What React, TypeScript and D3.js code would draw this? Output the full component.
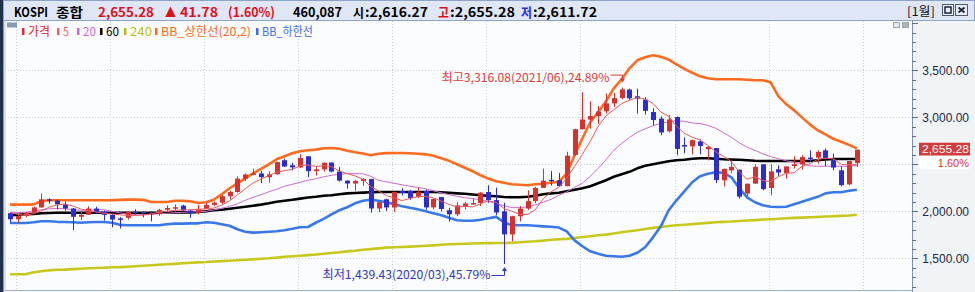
import { useEffect, useRef } from "react";
import * as d3 from "d3";

const W = 975;
const H = 292;

// monthly bars, 2014/12 .. 2023/12
const months = d3.timeMonth
  .range(new Date(2014, 11, 1), new Date(2024, 0, 1))
  .map(d3.timeFormat("%Y/%m"));

const opens = [
  1980,
  1915.6, 1949.3, 1985.8, 2041.0, 2127.2, 2114.8, 2074.2, 2030.2, 1941.5, 1962.8, 2029.5, 1992.0,
  1961.3, 1924, 1930, 1995.9, 1994.2, 1983.4, 1970.4, 2016.2, 2034.7, 2060, 2008.2, 1983.5,
  2026.5, 2067.6, 2091.6, 2160.2, 2205.4, 2347.4, 2391.8, 2402.7, 2363.2, 2394.5, 2543, 2490,
  2467.5, 2585, 2427.4, 2445.9, 2518, 2423.0, 2326.1, 2295.3, 2322.9, 2343.1, 2029.7, 2128,
  2041.0, 2215, 2216, 2152, 2216, 2041.7, 2152, 2011, 1967.8, 2046, 2074, 2088.0,
  2205, 2119.0, 2000, 1754.6, 1947.6, 2029.6, 2108.3, 2249.4, 2335, 2330, 2267, 2600,
  2874, 2976, 3013, 3064, 3147.9, 3205, 3295, 3223, 3188, 3056, 2986, 2851,
  3003, 2705, 2691, 2744, 2660, 2673, 2330, 2436, 2443, 2188, 2294, 2500,
  2248, 2447, 2407, 2482, 2500, 2571, 2571, 2649, 2553, 2436, 2287, 2513,
];
const highs = [
  1990,
  1963, 1990, 2050, 2189.5, 2139, 2127, 2105, 2036, 1994, 2053, 2049, 2008,
  1975, 1939, 2000, 2022, 2000, 2001, 2027, 2063, 2073, 2070, 2015, 2068,
  2089, 2104, 2172, 2217, 2371, 2402, 2453, 2429, 2426, 2523.4, 2561, 2516,
  2607, 2588, 2476, 2522, 2520, 2470, 2330, 2335, 2355, 2345, 2111, 2135,
  2210, 2246, 2228, 2252, 2231, 2137, 2152, 2038, 2096, 2101, 2136, 2204,
  2277, 2252, 2092, 1952, 2056, 2223, 2260, 2454, 2429, 2408, 2633, 2878,
  3266, 3170, 3120, 3252, 3259, 3316.1, 3305, 3305, 3214, 3096, 3010, 3025,
  3010, 2787, 2762, 2766, 2694, 2673, 2454, 2543, 2443, 2294, 2500, 2500,
  2500, 2489, 2479, 2585, 2596, 2649, 2649, 2667, 2614, 2479, 2535.3, 2655.3,
];
const lows = [
  1882,
  1876, 1936, 1977, 2039, 2082, 2020, 2006, 1800.8, 1908, 1961, 1969, 1901,
  1829, 1817, 1912, 1963, 1936, 1892, 1952, 2002, 1988, 2004, 1931, 1966,
  2026, 2055, 2073, 2126, 2199, 2322, 2384, 2300, 2305, 2387, 2471, 2436,
  2460, 2363, 2380, 2422, 2415, 2316, 2242, 2218, 2270, 1985.9, 1991, 2004,
  1993, 2169, 2121, 2140, 2016, 2021, 1998, 1891, 1947, 2020, 2070, 2057,
  2090, 1958, 1439.4, 1680, 1891, 2014, 2088, 2249, 2273, 2267, 2267, 2590,
  2869, 2880, 2930, 3040, 3110, 3191, 3185, 3039, 3030, 2915, 2809, 2837,
  2596, 2617, 2606, 2606, 2542, 2301, 2266, 2408, 2135, 2160, 2294, 2223,
  2170, 2372, 2348, 2454, 2443, 2524, 2507, 2479, 2436, 2266, 2277, 2471,
];
const closes = [
  1915.6,
  1949.3, 1985.8, 2041.0, 2127.2, 2114.8, 2074.2, 2030.2, 1941.5, 1962.8, 2029.5, 1992.0, 1961.3,
  1912.1, 1916.7, 1995.9, 1994.2, 1983.4, 1970.4, 2016.2, 2034.7, 2043.6, 2008.2, 1983.5, 2026.5,
  2067.6, 2091.6, 2160.2, 2205.4, 2347.4, 2391.8, 2402.7, 2363.2, 2394.5, 2523.4, 2476.4, 2467.5,
  2566.5, 2427.4, 2445.9, 2515.4, 2423.0, 2326.1, 2295.3, 2322.9, 2343.1, 2029.7, 2096.9, 2041.0,
  2204.9, 2195.4, 2140.7, 2203.6, 2041.7, 2130.6, 2024.6, 1967.8, 2063.1, 2083.5, 2088.0, 2197.7,
  2119.0, 1987.0, 1754.6, 1947.6, 2029.6, 2108.3, 2249.4, 2326.2, 2327.9, 2267.2, 2591.3, 2873.5,
  2976.2, 3013.0, 3061.4, 3147.9, 3203.9, 3296.7, 3202.3, 3199.3, 3068.8, 2970.7, 2839.0, 2977.7,
  2663.3, 2699.2, 2757.7, 2695.1, 2685.9, 2332.6, 2451.5, 2472.1, 2155.5, 2293.6, 2472.5, 2236.4,
  2425.1, 2412.9, 2476.9, 2501.5, 2577.1, 2564.3, 2632.6, 2556.3, 2465.1, 2278.0, 2535.3, 2655.3,
];

const ma5 = [
  1989.9,
  1966.0, 1959.2, 1974.5, 2003.8, 2043.6, 2068.6, 2077.5, 2057.6, 2024.7, 2007.6, 1991.2, 1977.4,
  1971.5, 1962.3, 1955.6, 1956.0, 1960.5, 1972.1, 1992.0, 1999.8, 2009.7, 2014.6, 2017.2, 2019.3,
  2025.9, 2035.5, 2065.9, 2110.3, 2174.4, 2239.3, 2301.5, 2342.1, 2379.9, 2415.1, 2432.0, 2445.0,
  2485.7, 2492.2, 2476.7, 2484.5, 2475.6, 2427.6, 2401.1, 2376.5, 2342.1, 2263.4, 2217.6, 2166.7,
  2143.1, 2113.6, 2135.8, 2157.1, 2157.3, 2142.4, 2108.2, 2073.7, 2045.6, 2053.9, 2045.4, 2080.0,
  2110.3, 2095.0, 2029.3, 2001.2, 1967.6, 1965.4, 2017.9, 2132.2, 2208.3, 2255.8, 2352.4, 2477.2,
  2607.2, 2744.2, 2903.1, 3014.4, 3080.5, 3144.6, 3182.4, 3210.0, 3194.2, 3147.6, 3056.0, 3011.1,
  2903.9, 2830.0, 2787.4, 2758.6, 2700.2, 2634.1, 2584.6, 2527.4, 2419.5, 2341.1, 2369.0, 2326.0,
  2316.6, 2368.1, 2404.8, 2410.6, 2478.7, 2506.5, 2550.5, 2566.4, 2559.1, 2499.3, 2493.5, 2498.0,
];
const ma20 = [
  1989,
  1986, 1989, 2003, 2016, 2027, 2029, 2029, 2018, 2011, 2011, 2016, 2016,
  2000, 1984, 1968, 1963, 1963, 1968, 1973, 1979, 1986, 1989, 1993, 1995,
  2000, 2014, 2032, 2053, 2080, 2117, 2149, 2176, 2207, 2234, 2266, 2287,
  2309, 2330, 2346, 2367, 2383, 2394, 2401, 2401, 2399, 2372, 2330, 2314,
  2298, 2282, 2266, 2255, 2239, 2218, 2197, 2176, 2160, 2144, 2135, 2122,
  2106, 2082, 2059, 2039, 2039, 2048, 2069, 2096, 2128, 2170, 2207, 2255,
  2298, 2372, 2457, 2548, 2649, 2720, 2787, 2840, 2878, 2910, 2936, 2952,
  2963, 2957, 2941, 2933, 2915, 2883, 2835, 2787, 2729, 2681, 2649, 2612,
  2582, 2559, 2537, 2524, 2505, 2484, 2479, 2479, 2479, 2479, 2479, 2489,
];
const ma60 = [
  1957,
  1963, 1968, 1973, 1979, 1982, 1984, 1984, 1984, 1984, 1984, 1984, 1984,
  1984, 1984, 1984, 1984, 1984, 1984, 1984, 1984, 1989, 1989, 1989, 1993,
  2000, 2011, 2016, 2027, 2037, 2048, 2059, 2071, 2085, 2101, 2112, 2122,
  2135, 2146, 2154, 2165, 2170, 2181, 2191, 2195, 2199, 2202, 2205, 2205,
  2205, 2205, 2205, 2205, 2205, 2205, 2202, 2197, 2191, 2186, 2178, 2170,
  2165, 2160, 2152, 2149, 2149, 2154, 2165, 2181, 2191, 2197, 2213, 2229,
  2245, 2266, 2298, 2330, 2367, 2394, 2420, 2457, 2484, 2500, 2516, 2532,
  2543, 2548, 2559, 2564, 2564, 2559, 2553, 2550, 2548, 2543, 2537, 2535,
  2535, 2535, 2535, 2535, 2535, 2535, 2543, 2551, 2556, 2556, 2556, 2556,
];
const ma240 = [
  1330,
  1330, 1330, 1351, 1362, 1372, 1378, 1380, 1385, 1389, 1394, 1397, 1400,
  1404, 1406, 1410, 1415, 1420, 1426, 1431, 1436, 1441, 1447, 1452, 1457,
  1460, 1466, 1470, 1474, 1479, 1484, 1489, 1495, 1500, 1507, 1516, 1521,
  1527, 1534, 1540, 1548, 1556, 1564, 1574, 1580, 1591, 1598, 1606, 1614,
  1617, 1620, 1624, 1628, 1633, 1638, 1644, 1649, 1652, 1655, 1657, 1660,
  1661, 1662, 1663, 1665, 1670, 1676, 1681, 1688, 1697, 1702, 1707, 1716,
  1726, 1734, 1745, 1752, 1764, 1777, 1787, 1798, 1812, 1824, 1833, 1843,
  1851, 1857, 1864, 1870, 1877, 1883, 1887, 1891, 1897, 1902, 1906, 1912,
  1916, 1920, 1926, 1930, 1933, 1936, 1940, 1944, 1947, 1951, 1955, 1963,
];
const bbUpper = [
  2071,
  2071, 2071, 2074, 2106, 2117, 2117, 2117, 2117, 2117, 2117, 2117, 2117,
  2117, 2122, 2124, 2124, 2122, 2099, 2099, 2099, 2112, 2112, 2106, 2088,
  2096, 2124, 2181, 2245, 2298, 2351, 2404, 2452, 2500, 2553, 2585, 2617,
  2638, 2649, 2656, 2670, 2673, 2665, 2644, 2628, 2614, 2596, 2612, 2619,
  2620, 2620, 2617, 2612, 2606, 2590, 2564, 2537, 2500, 2463, 2426, 2383,
  2348, 2319, 2303, 2287, 2282, 2277, 2287, 2293, 2303, 2314, 2404, 2596,
  2777, 2947, 3053, 3170, 3308, 3404, 3521, 3606, 3638, 3660, 3644, 3614,
  3564, 3516, 3474, 3436, 3415, 3404, 3404, 3404, 3404, 3399, 3394, 3394,
  3372, 3223, 3138, 3074, 2999, 2925, 2862, 2819, 2771, 2739, 2707, 2670,
];
const bbLower = [
  1876,
  1876, 1876, 1883, 1894, 1894, 1888, 1886, 1883, 1878, 1883, 1886, 1886,
  1878, 1856, 1851, 1851, 1851, 1851, 1851, 1862, 1869, 1869, 1872, 1872,
  1883, 1878, 1862, 1846, 1809, 1782, 1773, 1777, 1782, 1787, 1798, 1814,
  1830, 1833, 1878, 1920, 1968, 2011, 2043, 2085, 2112, 2122, 2112, 2096,
  2074, 2053, 2037, 2021, 2000, 1979, 1957, 1931, 1904, 1899, 1899, 1910,
  1926, 1941, 1883, 1851, 1851, 1851, 1846, 1840, 1835, 1827, 1787, 1691,
  1628, 1574, 1548, 1527, 1521, 1516, 1527, 1559, 1617, 1723, 1840, 2011,
  2117, 2213, 2309, 2373, 2399, 2415, 2410, 2362, 2245, 2149, 2096, 2064,
  2048, 2046, 2048, 2074, 2101, 2128, 2154, 2191, 2202, 2202, 2218, 2229,
];

const yTicks = [1500, 2000, 2500, 3000, 3500];
const legendLabels = ["가격", "5", "20", "60", "240", "BB_상한선(20,2)", "BB_하한선"];
const headerTexts = ["KOSPI", "종합", "2,655.28", "▲", "41.78", "(1.60%)", "460,087", "시", ":2,616.27", "고", ":2,655.28", "저", ":2,611.72"];
const lastPrice = "2,655.28";
const lastChange = "1.60%";
const highNote = { month: "2021/06", value: 3316.08, text: "최고3,316.08(2021/06),24.89%" };
const lowNote = { month: "2020/03", value: 1439.43, text: "최저1,439.43(2020/03),45.79%" };

const KFONT = "'Noto Sans CJK KR', 'Liberation Sans', sans-serif";
const NFONT = "'Liberation Sans', Arial, sans-serif";
const UP = "#d63131";
const DOWN = "#2d2dcf";

export default function App() {
  const svgRef = useRef<SVGSVGElement>(null);

  useEffect(() => {
    if (!svgRef.current) return;
    const svg = d3.select(svgRef.current);
    svg.selectAll("*").remove();

    const plot = { left: 5, right: 912, top: 21, bottom: 290 };

    // one extra slot so the 2024 year line can be placed
    const slots = [...months, "2024/01"];
    const x = d3.scalePoint<string>().domain(slots).range([10, 864.7]);
    const y = d3.scaleLinear().domain([1500, 3500]).range([258.3, 70.3]);

    // backgrounds
    svg.append("rect").attr("width", W).attr("height", H).attr("fill", "#ffffff");
    svg.append("rect")
      .attr("x", plot.left).attr("y", plot.top)
      .attr("width", plot.right - plot.left).attr("height", H - plot.top)
      .attr("fill", "#fafcfd");
    svg.append("rect")
      .attr("x", plot.right).attr("y", plot.top)
      .attr("width", W - plot.right).attr("height", H - plot.top)
      .attr("fill", "#f1f4f7");

    // grid
    const grid = svg.append("g").attr("stroke", "#c9ced6").attr("stroke-width", 1).attr("stroke-dasharray", "1 2");
    grid.selectAll("line.h")
      .data(yTicks)
      .enter()
      .append("line")
      .attr("x1", plot.left).attr("x2", plot.right)
      .attr("y1", d => Math.round(y(d)) + 0.5).attr("y2", d => Math.round(y(d)) + 0.5);
    grid.selectAll("line.v")
      .data(slots.filter(m => m.endsWith("/01")))
      .enter()
      .append("line")
      .attr("x1", d => Math.round(x(d)! - 2) + 0.5).attr("x2", d => Math.round(x(d)! - 2) + 0.5)
      .attr("y1", plot.top).attr("y2", plot.bottom);

    // indicator lines
    const series: { values: number[]; color: string; width: number }[] = [
      { values: ma240, color: "#c8c81c", width: 2.6 },
      { values: bbLower, color: "#3a78ea", width: 2.6 },
      { values: bbUpper, color: "#ff6a1e", width: 2.6 },
      { values: ma60, color: "#000000", width: 2.6 },
      { values: ma20, color: "#d069d0", width: 1 },
    ];
    const line = (vals: number[]) =>
      d3.line<number>()
        .x((_, i) => x(months[i])!)
        .y(d => y(d))(vals);

    const lines = svg.append("g").attr("fill", "none");
    series.forEach(s => {
      lines.append("path")
        .attr("d", line(s.values))
        .attr("stroke", s.color)
        .attr("stroke-width", s.width)
        .attr("stroke-linejoin", "round");
    });

    // candles
    const candles = svg.append("g")
      .selectAll("g")
      .data(months)
      .enter()
      .append("g");
    candles.append("line")
      .attr("x1", (m) => Math.round(x(m)!) + 0.5)
      .attr("x2", (m) => Math.round(x(m)!) + 0.5)
      .attr("y1", (_, i) => y(highs[i]))
      .attr("y2", (_, i) => y(lows[i]))
      .attr("stroke", (_, i) => (closes[i] >= opens[i] ? UP : DOWN))
      .attr("stroke-width", 1);
    candles.append("rect")
      .attr("x", (m) => Math.round(x(m)!) - 2)
      .attr("width", 5)
      .attr("y", (_, i) => y(Math.max(opens[i], closes[i])))
      .attr("height", (_, i) => Math.max(1.5, Math.abs(y(opens[i]) - y(closes[i]))))
      .attr("fill", (_, i) => (closes[i] >= opens[i] ? UP : DOWN));

    svg.append("path")
      .attr("d", line(ma5))
      .attr("fill", "none")
      .attr("stroke", "#ef5a5a")
      .attr("stroke-width", 1);

    // frame
    svg.append("line")
      .attr("x1", plot.left).attr("x2", plot.right)
      .attr("y1", plot.bottom + 0.5).attr("y2", plot.bottom + 0.5)
      .attr("stroke", "#9db0d2");
    svg.append("line")
      .attr("x1", plot.right + 0.5).attr("x2", plot.right + 0.5)
      .attr("y1", plot.top).attr("y2", H)
      .attr("stroke", "#7b8fb6");
    svg.append("rect").attr("x", 0).attr("y", 0).attr("width", 3.5).attr("height", H).attr("fill", "#23304c");
    svg.append("line").attr("x1", 5).attr("x2", 5).attr("y1", plot.top).attr("y2", H).attr("stroke", "#b8c4d8");

    // right axis
    const lastY = y(closes[closes.length - 1]);
    const axis = svg.append("g");
    const minor = d3.range(1200, 4001, 100).filter(v => y(v) > plot.top + 1 && y(v) < plot.bottom);
    axis.selectAll("line")
      .data(minor)
      .enter()
      .append("line")
      .attr("x1", plot.right)
      .attr("x2", d => plot.right + (d % 500 === 0 ? 6 : 4))
      .attr("y1", d => Math.round(y(d)) + 0.5)
      .attr("y2", d => Math.round(y(d)) + 0.5)
      .attr("stroke", "#5d6f94");
    // labels hidden behind the price tag are not drawn
    axis.selectAll("text")
      .data(yTicks.filter(d => Math.abs(y(d) - lastY) > 22))
      .enter()
      .append("text")
      .attr("x", 969)
      .attr("y", d => y(d) + 4.5)
      .attr("text-anchor", "end")
      .style("font-family", NFONT)
      .style("font-size", "12px")
      .attr("fill", "#1b2748")
      .text(d => d3.format(",.2f")(d));

    // last price tag
    svg.append("rect")
      .attr("x", 919).attr("y", lastY - 7).attr("width", 51).attr("height", 13)
      .attr("fill", "#d13b3b");
    svg.append("text")
      .attr("x", 969).attr("y", lastY + 3.5)
      .attr("text-anchor", "end")
      .style("font-family", NFONT).style("font-size", "11px")
      .attr("textLength", 47).attr("lengthAdjust", "spacingAndGlyphs")
      .attr("fill", "#ffffff")
      .text(lastPrice);
    svg.append("rect")
      .attr("x", 919).attr("y", lastY + 6).attr("width", 51).attr("height", 13)
      .attr("fill", "#ffffff");
    svg.append("text")
      .attr("x", 969).attr("y", lastY + 17.5)
      .attr("text-anchor", "end")
      .style("font-family", NFONT).style("font-size", "11px")
      .attr("fill", "#e03434")
      .text(lastChange);

    // high / low notes
    const hx = Math.round(x(highNote.month)!) + 0.5;
    const hy = y(highNote.value);
    svg.append("text")
      .attr("x", hx - 181).attr("y", hy - 6)
      .attr("textLength", 168).attr("lengthAdjust", "spacingAndGlyphs")
      .style("font-family", KFONT).style("font-size", "12px")
      .attr("fill", "#e03b3b")
      .text(highNote.text);
    svg.append("path")
      .attr("d", `M${hx - 12},${hy - 12.5}H${hx}V${hy - 8}`)
      .attr("fill", "none").attr("stroke", "#e03b3b");
    svg.append("path")
      .attr("d", `M${hx - 2.5},${hy - 9}L${hx + 2.5},${hy - 9}L${hx},${hy - 5}Z`)
      .attr("fill", "#e03b3b");

    const lx = Math.round(x(lowNote.month)!) + 0.5;
    const ly = y(lowNote.value);
    svg.append("text")
      .attr("x", lx - 182).attr("y", ly + 15)
      .attr("textLength", 168).attr("lengthAdjust", "spacingAndGlyphs")
      .style("font-family", KFONT).style("font-size", "12px")
      .attr("fill", "#3334c4")
      .text(lowNote.text);
    svg.append("path")
      .attr("d", `M${lx - 13},${ly + 11.5}H${lx}V${ly + 6}`)
      .attr("fill", "none").attr("stroke", "#3334c4");
    svg.append("path")
      .attr("d", `M${lx - 2.5},${ly + 7}L${lx + 2.5},${ly + 7}L${lx},${ly + 3}Z`)
      .attr("fill", "#3334c4");

    // legend
    const legendColors = ["#e02a2a", "#ee6060", "#d069d0", "#000000", "#bcbc10", "#ff6a1e", "#3a6cee"];
    const legendX = [22, 57, 77, 100, 124, 155, 256];
    const legendW = [22, 6, 13, 13, 22, 90, 51];
    svg.append("rect")
      .attr("x", 7).attr("y", 22.5).attr("width", 10).attr("height", 5)
      .attr("fill", "#8898b8");
    const leg = svg.append("g")
      .selectAll("g")
      .data(legendLabels)
      .enter()
      .append("g");
    leg.append("rect")
      .attr("x", (_, i) => legendX[i])
      .attr("y", 28)
      .attr("width", 2.5)
      .attr("height", 7)
      .attr("fill", (_, i) => legendColors[i]);
    leg.append("text")
      .attr("x", (_, i) => legendX[i] + 6)
      .attr("y", 36)
      .attr("textLength", (_, i) => legendW[i])
      .attr("lengthAdjust", "spacingAndGlyphs")
      .style("font-family", KFONT)
      .style("font-size", "12px")
      .attr("fill", (_, i) => legendColors[i])
      .text(d => d);

    // small panel buttons
    svg.append("rect").attr("x", 893.5).attr("y", 22.5).attr("width", 6).attr("height", 5)
      .attr("fill", "#e4e8ee").attr("stroke", "#9aa4b4");
    svg.append("rect").attr("x", 902.5).attr("y", 22.5).attr("width", 6).attr("height", 5)
      .attr("fill", "#aab2c0").attr("stroke", "#9aa4b4");

    // title bar
    svg.append("rect")
      .attr("x", 3.5).attr("y", 0.5).attr("width", W - 4).attr("height", 20)
      .attr("fill", "#dfe6f6").attr("stroke", "#8fa2c8");
    const red = "#e0101a";
    const blue = "#2a2af0";
    const hX = [14, 56, 98, 165, 180, 228, 293, 353, 365, 438, 450, 521, 533];
    const hW = [34, 27, 56, 11, 38, 47, 49, 11, 63, 11, 65, 11, 64];
    const hC = ["#000", "#000", red, red, red, red, "#000", "#000", "#000", red, "#000", blue, "#000"];
    svg.append("g")
      .selectAll("text")
      .data(headerTexts)
      .enter()
      .append("text")
      .attr("x", (_, i) => hX[i])
      .attr("y", 16.5)
      .attr("textLength", (_, i) => hW[i])
      .attr("lengthAdjust", "spacingAndGlyphs")
      .style("font-family", KFONT)
      .style("font-size", "13px")
      .style("font-weight", "bold")
      .attr("fill", (_, i) => hC[i])
      .text(d => d);
    svg.append("text")
      .attr("x", 907).attr("y", 16)
      .attr("textLength", 28).attr("lengthAdjust", "spacingAndGlyphs")
      .style("font-family", KFONT).style("font-size", "12px")
      .attr("fill", "#111")
      .text("[1월]");
    // window buttons
    svg.append("rect").attr("x", 942.5).attr("y", 4.5).attr("width", 11).attr("height", 11)
      .attr("fill", "#e9eef8").attr("stroke", "#4c5a78");
    svg.append("rect").attr("x", 945).attr("y", 7).attr("width", 6).attr("height", 6)
      .attr("fill", "none").attr("stroke", "#1a2440").attr("stroke-width", 1.5);
    svg.append("rect").attr("x", 955.5).attr("y", 4.5).attr("width", 12).attr("height", 11)
      .attr("fill", "#e9eef8").attr("stroke", "#4c5a78");
    svg.append("path").attr("d", "M958.5,7.5L964.5,12.5M964.5,7.5L958.5,12.5")
      .attr("stroke", "#1a2440").attr("stroke-width", 1.8);
  }, []);

  return (
    <svg
      ref={svgRef}
      width={W}
      height={H}
      style={{ position: "absolute", left: 0, top: 0, display: "block" }}
    />
  );
}
